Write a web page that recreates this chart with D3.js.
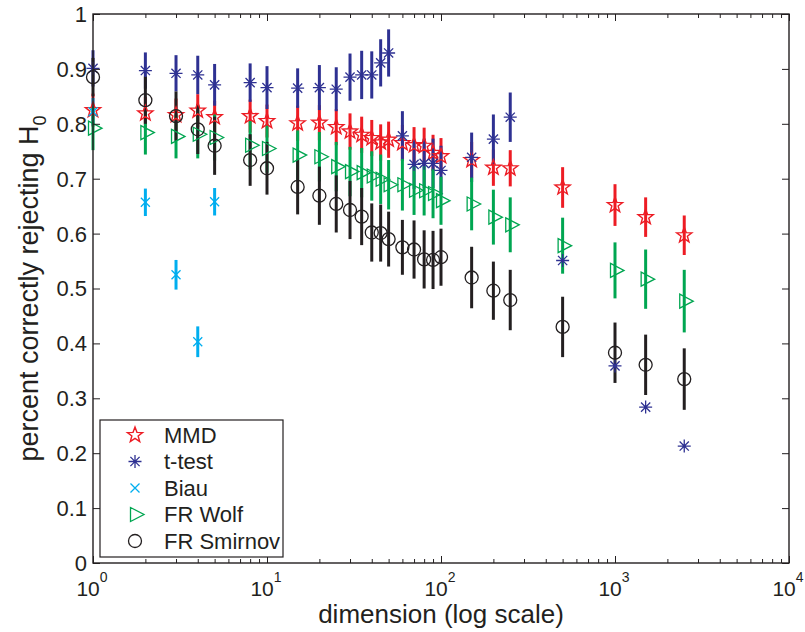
<!DOCTYPE html>
<html>
<head>
<meta charset="utf-8">
<script src="https://cdn.jsdelivr.net/npm/d3@7"></script>
<style>
  body { margin: 0; background: #fff; }
  svg text { font-family: "Liberation Sans", Arial, Helvetica, sans-serif; fill: #231f20; }
</style>
</head>
<body>
<div id="chart"></div>
<script>
// dimensions tested (x axis, log scale)
var dims = [1, 2, 3, 4, 5, 8, 10, 15, 20, 25, 30, 35, 40, 45, 50, 60, 70, 80, 90, 100, 150, 200, 250, 500, 1000, 1500, 2500];

// MMD
var mmd    = [0.825, 0.819, 0.816, 0.824, 0.812, 0.814, 0.805, 0.801, 0.802, 0.794, 0.786, 0.780, 0.774, 0.766, 0.771, 0.765, 0.761, 0.760, 0.747, 0.741, 0.734, 0.720, 0.719, 0.684, 0.652, 0.630, 0.597];
var mmdErr = [0.030, 0.030, 0.030, 0.030, 0.030, 0.030, 0.030, 0.032, 0.032, 0.033, 0.033, 0.033, 0.033, 0.033, 0.033, 0.033, 0.033, 0.033, 0.033, 0.033, 0.033, 0.033, 0.033, 0.037, 0.038, 0.036, 0.036];

// t-test
var ttest    = [0.901, 0.897, 0.892, 0.889, 0.871, 0.875, 0.866, 0.865, 0.866, 0.863, 0.885, 0.889, 0.889, 0.911, 0.929, 0.778, 0.726, 0.728, 0.728, 0.715, 0.739, 0.772, 0.812, 0.551, 0.359, 0.284, 0.213];
var ttestErr = [0.033, 0.033, 0.033, 0.035, 0.038, 0.035, 0.039, 0.036, 0.041, 0.040, 0.043, 0.044, 0.043, 0.043, 0.043, 0.045, 0.045, 0.045, 0.045, 0.045, 0.045, 0.045, 0.045, 0, 0, 0, 0];

// Biau (only low dimensions)
var biauDims = [1, 2, 3, 4, 5];
var biau     = [0.822, 0.657, 0.525, 0.403, 0.658];
var biauErr  = [0.025, 0.025, 0.027, 0.028, 0.025];

// FR Wolf
var wolf    = [0.792, 0.784, 0.777, 0.781, 0.775, 0.761, 0.755, 0.743, 0.740, 0.722, 0.713, 0.711, 0.705, 0.699, 0.689, 0.689, 0.679, 0.678, 0.673, 0.660, 0.654, 0.630, 0.616, 0.578, 0.533, 0.517, 0.477];
var wolfErr = [0.040, 0.040, 0.040, 0.044, 0.042, 0.044, 0.044, 0.045, 0.045, 0.045, 0.045, 0.045, 0.045, 0.045, 0.045, 0.047, 0.045, 0.045, 0.045, 0.044, 0.048, 0.050, 0.050, 0.051, 0.051, 0.054, 0.057];

// FR Smirnov
var smir    = [0.885, 0.843, 0.814, 0.790, 0.760, 0.734, 0.719, 0.685, 0.669, 0.654, 0.643, 0.631, 0.602, 0.601, 0.590, 0.575, 0.571, 0.553, 0.552, 0.557, 0.520, 0.496, 0.479, 0.430, 0.383, 0.361, 0.335];
var smirErr = [0.035, 0.043, 0.045, 0.045, 0.053, 0.047, 0.048, 0.050, 0.053, 0.052, 0.053, 0.052, 0.053, 0.052, 0.050, 0.050, 0.053, 0.053, 0.053, 0.052, 0.056, 0.053, 0.055, 0.055, 0.055, 0.055, 0.056];

var yTicks = [0, 0.1, 0.2, 0.3, 0.4, 0.5, 0.6, 0.7, 0.8, 0.9, 1];
var xMajor = [1, 10, 100, 1000, 10000];

function zipSeries(xs, ys, es) {
  return xs.map(function(d, i) { return { dim: d, value: ys[i], err: es[i] }; });
}

var series = [
  { name: 'MMD',        color: '#ed1c24', marker: 'star',  data: zipSeries(dims, mmd, mmdErr) },
  { name: 't-test',     color: '#2e3192', marker: 'aster', data: zipSeries(dims, ttest, ttestErr) },
  { name: 'Biau',       color: '#00aeef', marker: 'cross', data: zipSeries(biauDims, biau, biauErr) },
  { name: 'FR Wolf',    color: '#00a651', marker: 'tri',   data: zipSeries(dims, wolf, wolfErr) },
  { name: 'FR Smirnov', color: '#231f20', marker: 'circle', data: zipSeries(dims, smir, smirErr) }
];

var width = 805, height = 632;
var pLeft = 93, pRight = 789, pTop = 14, pBottom = 563;

var x = d3.scaleLog().domain([1, 10000]).range([pLeft, pRight]);
var y = d3.scaleLinear().domain([0, 1]).range([pBottom, pTop]);

var svg = d3.select('#chart').append('svg')
  .attr('width', width)
  .attr('height', height);

/* markers */
function drawMarker(g, type, color) {
  if (type === 'star') {
    var pts = [];
    for (var k = 0; k < 10; k++) {
      var r = k % 2 === 0 ? 8 : 3.3;
      var a = -Math.PI / 2 + k * Math.PI / 5;
      pts.push([r * Math.cos(a), r * Math.sin(a)]);
    }
    g.append('path').attr('d', 'M' + pts.join('L') + 'Z')
      .attr('fill', 'none').attr('stroke', color).attr('stroke-width', 1.4);
  } else if (type === 'aster') {
    var s = 6.5, dd = 4.6;
    g.append('path')
      .attr('d', 'M0,' + (-s) + 'V' + s + 'M' + (-s) + ',0H' + s +
        'M' + (-dd) + ',' + (-dd) + 'L' + dd + ',' + dd + 'M' + (-dd) + ',' + dd + 'L' + dd + ',' + (-dd))
      .attr('stroke', color).attr('stroke-width', 1.3);
  } else if (type === 'cross') {
    var c = 4.5;
    g.append('path')
      .attr('d', 'M' + (-c) + ',' + (-c) + 'L' + c + ',' + c + 'M' + (-c) + ',' + c + 'L' + c + ',' + (-c))
      .attr('stroke', color).attr('stroke-width', 1.3);
  } else if (type === 'tri') {
    g.append('path').attr('d', 'M-4.5,-7L9,0L-4.5,7Z')
      .attr('fill', 'none').attr('stroke', color).attr('stroke-width', 1.3);
  } else {
    g.append('circle').attr('r', 6.5)
      .attr('fill', 'none').attr('stroke', color).attr('stroke-width', 1.3);
  }
}

/* error bars, all series first */
var bars = svg.append('g').attr('class', 'bars');
series.forEach(function(s) {
  bars.append('g').selectAll('line')
    .data(s.data.filter(function(d) { return d.err > 0; }))
    .enter().append('line')
    .attr('x1', function(d) { return x(d.dim); })
    .attr('x2', function(d) { return x(d.dim); })
    .attr('y1', function(d) { return y(d.value + d.err); })
    .attr('y2', function(d) { return y(d.value - d.err); })
    .attr('stroke', s.color)
    .attr('stroke-width', 3);
});

/* then markers */
var marks = svg.append('g').attr('class', 'marks');
series.forEach(function(s) {
  marks.append('g').selectAll('g')
    .data(s.data)
    .enter().append('g')
    .attr('transform', function(d) { return 'translate(' + x(d.dim) + ',' + y(d.value) + ')'; })
    .each(function() { drawMarker(d3.select(this), s.marker, s.color); });
});

/* axes box and ticks */
var minor = [];
for (var e = 0; e < 4; e++) {
  for (var m = 2; m < 10; m++) minor.push(m * Math.pow(10, e));
}

var axisColor = '#231f20';

function noDomain(g) { g.select('.domain').remove(); }

svg.append('g')
  .attr('transform', 'translate(0,' + pBottom + ')')
  .call(d3.axisBottom(x).tickValues(xMajor).tickSize(-7).tickFormat(''))
  .call(noDomain);
svg.append('g')
  .attr('transform', 'translate(0,' + pBottom + ')')
  .call(d3.axisBottom(x).tickValues(minor).tickSize(-4).tickFormat(''))
  .call(noDomain);
svg.append('g')
  .attr('transform', 'translate(0,' + pTop + ')')
  .call(d3.axisTop(x).tickValues(xMajor).tickSize(-7).tickFormat(''))
  .call(noDomain);
svg.append('g')
  .attr('transform', 'translate(0,' + pTop + ')')
  .call(d3.axisTop(x).tickValues(minor).tickSize(-4).tickFormat(''))
  .call(noDomain);
svg.append('g')
  .attr('transform', 'translate(' + pLeft + ',0)')
  .call(d3.axisLeft(y).tickValues(yTicks).tickSize(-7).tickFormat(''))
  .call(noDomain);
svg.append('g')
  .attr('transform', 'translate(' + pRight + ',0)')
  .call(d3.axisRight(y).tickValues(yTicks).tickSize(-7).tickFormat(''))
  .call(noDomain);
svg.selectAll('.tick line').attr('stroke', axisColor).attr('stroke-width', 1);

svg.append('rect')
  .attr('x', pLeft).attr('y', pTop)
  .attr('width', pRight - pLeft).attr('height', pBottom - pTop)
  .attr('fill', 'none').attr('stroke', axisColor).attr('stroke-width', 1.4);

/* tick labels */
svg.append('g').selectAll('text')
  .data(yTicks).enter().append('text')
  .attr('x', pLeft - 6)
  .attr('y', function(d) { return y(d); })
  .attr('dy', '0.36em')
  .attr('text-anchor', 'end')
  .style('font-size', '22px')
  .text(function(d) { return d3.format('~g')(d); });

var xl = svg.append('g').selectAll('text')
  .data(xMajor).enter().append('text')
  .attr('x', function(d) { return x(d) - 1; })
  .attr('y', pBottom + 33)
  .attr('text-anchor', 'middle')
  .style('font-size', '21px');
xl.append('tspan').text('10');
xl.append('tspan')
  .attr('dy', -14)
  .style('font-size', '14px')
  .text(function(d) { return Math.round(Math.log10(d)); });

/* axis titles */
svg.append('text')
  .attr('x', (pLeft + pRight) / 2)
  .attr('y', 623)
  .attr('text-anchor', 'middle')
  .style('font-size', '26px')
  .text('dimension (log scale)');

var yl = svg.append('text')
  .attr('transform', 'translate(38,' + ((pTop + pBottom) / 2) + ') rotate(-90)')
  .attr('text-anchor', 'middle')
  .style('font-size', '27px');
yl.append('tspan').text('percent correctly rejecting H');
yl.append('tspan').attr('dy', 8).style('font-size', '18px').text('0');

/* legend */
var legend = svg.append('g').attr('transform', 'translate(100,420)');
legend.append('rect')
  .attr('width', 183).attr('height', 137)
  .attr('fill', '#fff').attr('stroke', axisColor).attr('stroke-width', 1.2);
var items = legend.selectAll('.item')
  .data(series).enter().append('g')
  .attr('class', 'item')
  .attr('transform', function(d, i) { return 'translate(0,' + (15 + i * 26.5) + ')'; });
items.append('g')
  .attr('transform', 'translate(35,0)')
  .each(function(d) { drawMarker(d3.select(this), d.marker, d.color); });
items.append('text')
  .attr('x', 64)
  .attr('dy', '0.36em')
  .style('font-size', '22px')
  .text(function(d) { return d.name; });
</script>
</body>
</html>
